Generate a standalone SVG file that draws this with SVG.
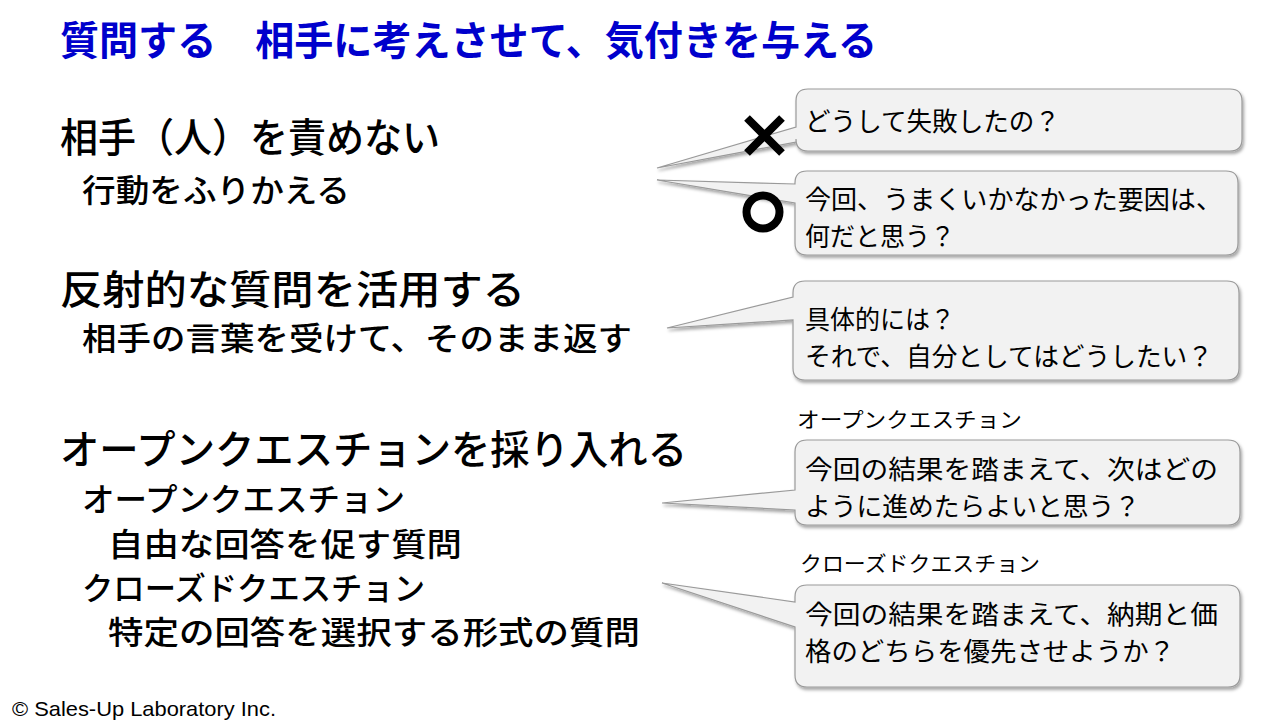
<svg xmlns="http://www.w3.org/2000/svg" width="1285" height="723" viewBox="0 0 1285 723">
<style>
.jp{font-family:"Noto Sans CJK JP","Noto Sans CJK SC",sans-serif;fill:#000}
.title{font-size:40px;font-weight:bold;fill:#0000cc}
.h1{font-size:40px;font-weight:500}
.h2{font-size:32px;font-weight:500}
.q{font-size:26px}
.lbl{font-size:21px}
.box{fill:#f2f2f2;stroke:#9a9a9a;stroke-width:1.2;filter:url(#sh)}
.mark{fill:none;stroke:#000;stroke-width:8}
.foot{font-family:"Liberation Sans",Arial,sans-serif;font-size:21px;fill:#000}
</style>
<defs>
<filter id="sh" x="-10%" y="-10%" width="120%" height="130%">
<feDropShadow dx="1.5" dy="2.5" stdDeviation="1.8" flood-color="#000" flood-opacity="0.35"/>
</filter>
</defs>
<rect width="1285" height="723" fill="#fff"/>
<g id="title">
<text class="jp title" x="60" y="55" textLength="817" lengthAdjust="spacingAndGlyphs">質問する　相手に考えさせて、気付きを与える</text>
</g>
<g id="left-text">
<text class="jp h1" x="60" y="152" textLength="380" lengthAdjust="spacingAndGlyphs">相手（人）を責めない</text>
<text class="jp h2" x="82" y="202" textLength="268" lengthAdjust="spacingAndGlyphs">行動をふりかえる</text>
<text class="jp h1" x="60" y="304" textLength="465" lengthAdjust="spacingAndGlyphs">反射的な質問を活用する</text>
<text class="jp h2" x="82" y="350" textLength="550" lengthAdjust="spacingAndGlyphs">相手の言葉を受けて、そのまま返す</text>
<text class="jp h1" x="60" y="464" textLength="627" lengthAdjust="spacingAndGlyphs">オープンクエスチョンを採り入れる</text>
<text class="jp h2" x="82" y="511" textLength="323" lengthAdjust="spacingAndGlyphs">オープンクエスチョン</text>
<text class="jp h2" x="108" y="556" textLength="354" lengthAdjust="spacingAndGlyphs">自由な回答を促す質問</text>
<text class="jp h2" x="82" y="600" textLength="343" lengthAdjust="spacingAndGlyphs">クローズドクエスチョン</text>
<text class="jp h2" x="108" y="644" textLength="532" lengthAdjust="spacingAndGlyphs">特定の回答を選択する形式の質問</text>
</g>
<g id="connectors">
<path id="callout1" class="box" d="M808,89 H1230 Q1242,89 1242,101 V139 Q1242,151 1230,151 H808 Q796,151 796,139 V142 L657,168 L796,127 V101 Q796,89 808,89 Z"/>
<path id="callout2" class="box" d="M807,171 H1226 Q1238,171 1238,183 V243 Q1238,255 1226,255 H807 Q795,255 795,243 V203 L657,180 L795,184 V183 Q795,171 807,171 Z"/>
<path id="callout3" class="box" d="M805,281 H1227 Q1239,281 1239,293 V368 Q1239,380 1227,380 H805 Q793,380 793,368 V320 L667,328 L793,297 V293 Q793,281 805,281 Z"/>
<path id="callout4" class="box" d="M807,440 H1228 Q1240,440 1240,452 V513 Q1240,525 1228,525 H807 Q795,525 795,513 V510 L662,503 L795,490 V452 Q795,440 807,440 Z"/>
<path id="callout5" class="box" d="M807,585 H1228 Q1240,585 1240,597 V675 Q1240,687 1228,687 H807 Q795,687 795,675 V627 L662,583 L795,602 V597 Q795,585 807,585 Z"/>
</g>
<g id="node-bad">
<path class="mark" d="M747,118 L782,153 M782,118 L747,153"/>
<text class="jp q" x="805" y="131" textLength="255" lengthAdjust="spacingAndGlyphs">どうして失敗したの？</text>
</g>
<g id="node-good">
<circle class="mark" cx="763" cy="212" r="16.5" stroke-width="7"/>
<text class="jp q" x="805" y="209" textLength="417" lengthAdjust="spacingAndGlyphs">今回、うまくいかなかった要因は、</text>
<text class="jp q" x="805" y="246" textLength="150" lengthAdjust="spacingAndGlyphs">何だと思う？</text>
</g>
<g id="node-reflect">
<text class="jp q" x="805" y="329" textLength="150" lengthAdjust="spacingAndGlyphs">具体的には？</text>
<text class="jp q" x="805" y="366" textLength="408" lengthAdjust="spacingAndGlyphs">それで、自分としてはどうしたい？</text>
</g>
<g id="node-open">
<text class="jp lbl" x="797" y="427" textLength="225" lengthAdjust="spacingAndGlyphs">オープンクエスチョン</text>
<text class="jp q" x="805" y="479" textLength="413" lengthAdjust="spacingAndGlyphs">今回の結果を踏まえて、次はどの</text>
<text class="jp q" x="805" y="516" textLength="335" lengthAdjust="spacingAndGlyphs">ように進めたらよいと思う？</text>
</g>
<g id="node-closed">
<text class="jp lbl" x="800" y="571" textLength="240" lengthAdjust="spacingAndGlyphs">クローズドクエスチョン</text>
<text class="jp q" x="805" y="624" textLength="413" lengthAdjust="spacingAndGlyphs">今回の結果を踏まえて、納期と価</text>
<text class="jp q" x="805" y="661" textLength="370" lengthAdjust="spacingAndGlyphs">格のどちらを優先させようか？</text>
</g>
<g id="footer">
<text class="foot" x="12" y="716" textLength="264" lengthAdjust="spacingAndGlyphs">© Sales-Up Laboratory Inc.</text>
</g>
</svg>
